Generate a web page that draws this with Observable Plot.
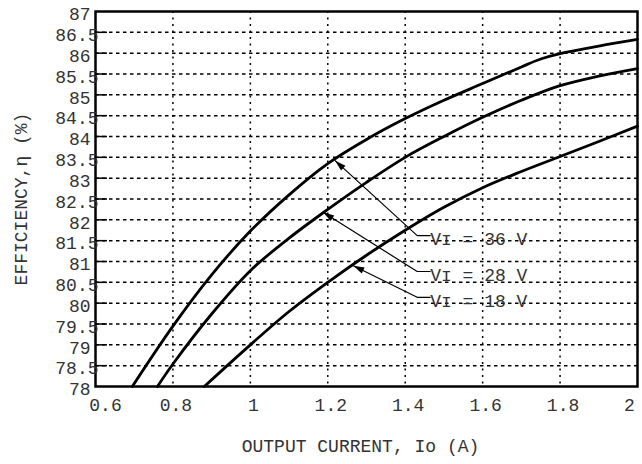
<!DOCTYPE html>
<html><head><meta charset="utf-8">
<script src="https://cdn.jsdelivr.net/npm/d3@7"></script>
<script src="https://cdn.jsdelivr.net/npm/@observablehq/plot@0.6"></script>
<style>body{margin:0;background:#fff}</style>
</head><body><div id="chart"></div>
<script>
// Output current (A) and efficiency (%) for each input voltage
const current36 = [0.695, 0.8, 0.9, 1.0, 1.1, 1.2, 1.3, 1.4, 1.5, 1.6, 1.7, 1.75, 1.8, 1.9, 2.0];
const eff36     = [78, 79.45, 80.68, 81.73, 82.6, 83.35, 83.93, 84.43, 84.87, 85.27, 85.67, 85.86, 85.99, 86.17, 86.33];
const current28 = [0.76, 0.8, 0.9, 1.0, 1.1, 1.2, 1.3, 1.4, 1.5, 1.6, 1.7, 1.8, 1.9, 2.0];
const eff28     = [78, 78.54, 79.74, 80.78, 81.56, 82.25, 82.9, 83.5, 84.0, 84.46, 84.87, 85.22, 85.45, 85.63];
const current18 = [0.881, 1.0, 1.1, 1.2, 1.3, 1.4, 1.5, 1.6, 1.7, 1.8, 1.9, 2.0];
const eff18     = [78, 79.0, 79.8, 80.5, 81.15, 81.75, 82.3, 82.77, 83.16, 83.52, 83.88, 84.25];

// Annotations
const labels = ["Vɪ = 36 V", "Vɪ = 28 V", "Vɪ = 18 V"];
const tipCurrent = [1.219, 1.188, 1.266];
const tipEff = [83.42, 82.18, 80.9];
const elbowCurrent = [1.431, 1.431, 1.431];
const elbowEff = [81.62, 80.76, 80.14];
const labelCurrent = [1.4645, 1.4645, 1.4645];

// Ticks
const xTicksMid = [0.8, 1, 1.2, 1.4, 1.6, 1.8];
const yTicksInt = [78, 79, 80, 81, 82, 83, 84, 85, 86, 87];
const yTicksHalf = [78.5, 79.5, 80.5, 81.5, 82.5, 83.5, 84.5, 85.5, 86.5];
const yGrid = [78.5, 79, 79.5, 80, 80.5, 81, 81.5, 82, 82.5, 83, 83.5, 84, 84.5, 85, 85.5, 86, 86.5];
const xGrid = [0.8, 1, 1.2, 1.4, 1.6, 1.8];

const xTitle = "OUTPUT CURRENT, Io (A)";
const yTitle = "EFFICIENCY,η (%)";

const series = [
  ...current36.map((c, i) => ({I: c, eta: eff36[i], v: "36"})),
  ...current28.map((c, i) => ({I: c, eta: eff28[i], v: "28"})),
  ...current18.map((c, i) => ({I: c, eta: eff18[i], v: "18"}))
];

const leaders = labels.flatMap((l, i) => [
  {I: tipCurrent[i], eta: tipEff[i], k: i},
  {I: elbowCurrent[i], eta: elbowEff[i], k: i},
  {I: labelCurrent[i], eta: elbowEff[i], k: i}
]);
const labelData = labels.map((l, i) => ({I: labelCurrent[i], eta: elbowEff[i], text: l}));

function filledHead(color) {
  const m = d3.create("svg:marker")
    .attr("viewBox", "-2 -5 16 10")
    .attr("markerUnits", "userSpaceOnUse")
    .attr("markerWidth", 16).attr("markerHeight", 10)
    .attr("refX", 0).attr("refY", 0)
    .attr("orient", "auto")
    .attr("overflow", "visible");
  m.append("path").attr("d", "M0,0L11,-3.3L11,3.3Z").attr("fill", color).attr("stroke", "none");
  return m.node();
}

const font = "Liberation Mono, DejaVu Sans Mono, monospace";

const chart = Plot.plot({
  width: 642,
  height: 464,
  marginLeft: 95,
  marginRight: 5,
  marginTop: 11,
  marginBottom: 78,
  style: {fontFamily: font, fontSize: "18px", color: "#333", background: "#fff"},
  x: {domain: [0.6, 2]},
  y: {domain: [78, 87]},
  marks: [
    Plot.gridY(yGrid, {stroke: "black", strokeOpacity: 1, strokeWidth: 1.5, strokeDasharray: "3.5,3.5"}),
    Plot.gridX(xGrid, {stroke: "black", strokeOpacity: 1, strokeWidth: 1.5, strokeDasharray: "2,4.5"}),
    Plot.tickY(yGrid, {y: d => d, stroke: "black", strokeWidth: 1.5, insetRight: 530}),
    Plot.line(series, {x: "I", y: "eta", z: "v", stroke: "black", strokeWidth: 2.8, curve: "catmull-rom"}),
    Plot.line(leaders, {x: "I", y: "eta", z: "k", stroke: "black", strokeWidth: 1.2, markerStart: filledHead}),
    Plot.text(labelData, {x: "I", y: "eta", text: "text", textAnchor: "start", dy: 4, fill: "#333", fontSize: 18}),
    Plot.frame({stroke: "black", strokeWidth: 2.5}),
    Plot.axisY(yTicksInt, {tickSize: 0, tickPadding: 5, dy: 3, tickFormat: d => String(d), label: null}),
    Plot.axisY(yTicksHalf, {tickSize: 0, tickPadding: -3, dy: 3, tickFormat: d => String(d), label: null}),
    Plot.axisX(xTicksMid, {tickSize: 0, tickPadding: 12, dx: 3, tickFormat: d => String(d), label: null}),
    Plot.axisX([0.6], {tickSize: 0, tickPadding: 12, dx: 10, tickFormat: d => String(d), label: null}),
    Plot.axisX([2], {tickSize: 0, tickPadding: 12, dx: -8, tickFormat: d => String(d), label: null}),
    Plot.text([xTitle], {frameAnchor: "bottom", textAnchor: "middle", dy: 65, dx: -6, fill: "#333", fontSize: 18}),
    Plot.text([yTitle], {frameAnchor: "left", textAnchor: "middle", rotate: -90, dx: -74, fill: "#333", fontSize: 18})
  ]
});
document.getElementById("chart").appendChild(chart);
</script>
</body></html>
